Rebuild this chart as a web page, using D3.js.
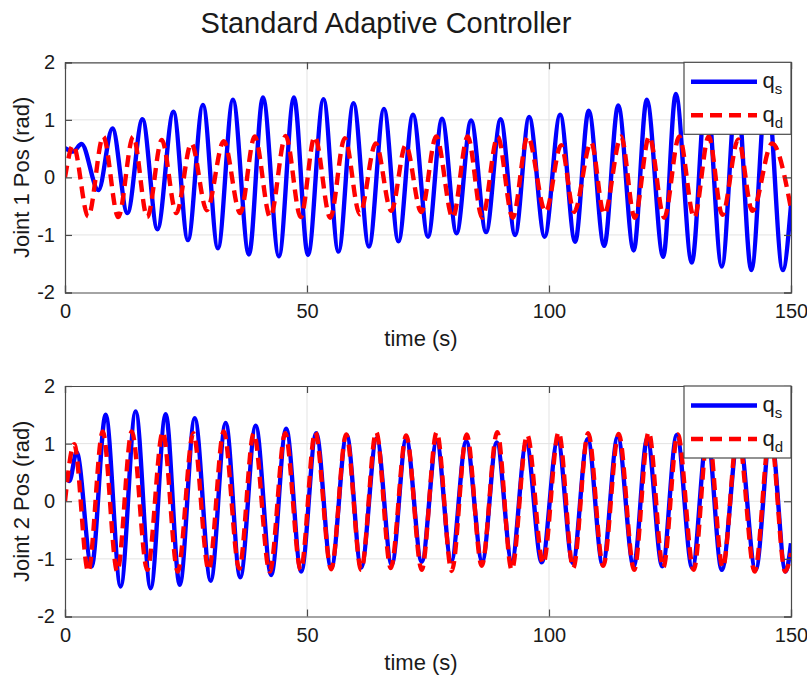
<!DOCTYPE html>
<html>
<head>
<meta charset="utf-8">
<script src="https://cdn.jsdelivr.net/npm/d3@7"></script>
<style>
  html, body { margin: 0; padding: 0; background: #fff; }
  svg { display: block; }
  text { font-family: "Liberation Sans", Arial, Helvetica, sans-serif; fill: #1a1a1a; }
</style>
</head>
<body>
<svg id="chart" width="807" height="677"></svg>
<script>
// Joint 1: simulated (q_s) and desired (q_d) positions, sampled at turning points
const j1QsTime = [0, 1.7, 3.4, 6.9, 9.8, 12.9, 16.0, 19.1, 22.4, 25.4, 28.5, 31.6, 34.7, 38.0, 40.9, 44.2, 47.3, 50.2, 53.4, 56.5, 59.6, 62.8, 65.9, 68.9, 71.9, 75.0, 77.9, 80.9, 83.9, 87.0, 90.0, 93.0, 95.9, 99.1, 102.3, 105.4, 108.2, 111.4, 114.3, 117.5, 120.2, 123.6, 126.2, 129.5, 132.5, 135.7, 138.8, 141.8, 145.0, 148.3, 150];
const j1QsVal  = [0.51, 0.45, 0.58, -0.22, 0.85, -0.62, 1.01, -0.90, 1.14, -1.09, 1.26, -1.23, 1.35, -1.34, 1.39, -1.37, 1.39, -1.35, 1.36, -1.29, 1.29, -1.20, 1.19, -1.11, 1.09, -1.03, 1.02, -0.97, 0.99, -0.95, 1.01, -1.00, 1.05, -1.03, 1.09, -1.12, 1.16, -1.19, 1.25, -1.27, 1.35, -1.38, 1.45, -1.48, 1.52, -1.55, 1.57, -1.61, 1.60, -1.61, -0.48];

const j1QdTime = [0, 1.7, 4.8, 7.9, 11.0, 14.1, 17.0, 20.0, 23.0, 26.1, 29.3, 32.8, 36.2, 39.2, 42.4, 45.6, 48.7, 51.6, 54.8, 57.8, 60.9, 64.2, 67.4, 70.4, 73.6, 76.7, 80.1, 83.2, 86.2, 89.4, 92.5, 95.6, 99.3, 102.5, 105.2, 108.7, 111.4, 114.9, 117.7, 120.7, 123.8, 126.9, 130.0, 133.0, 135.8, 139.1, 142.0, 146.1, 150];
const j1QdVal  = [0, 0.56, -0.68, 0.71, -0.69, 0.71, -0.69, 0.65, -0.62, 0.59, -0.57, 0.63, -0.62, 0.71, -0.69, 0.72, -0.69, 0.71, -0.70, 0.68, -0.64, 0.59, -0.58, 0.56, -0.60, 0.71, -0.70, 0.71, -0.70, 0.71, -0.70, 0.71, -0.60, 0.56, -0.60, 0.61, -0.64, 0.71, -0.70, 0.71, -0.70, 0.71, -0.70, 0.71, -0.65, 0.66, -0.58, 0.59, -0.54];

// Joint 2
const j2QsTime = [0, 0.9, 2.4, 5.5, 8.4, 11.5, 14.6, 17.7, 20.8, 23.7, 26.8, 30.1, 33.2, 36.2, 39.4, 42.6, 45.7, 48.8, 51.9, 55.0, 58.2, 61.2, 64.4, 67.5, 70.5, 73.7, 76.8, 79.8, 82.9, 86.2, 89.2, 92.3, 95.3, 98.5, 101.8, 104.9, 108.0, 111.1, 114.2, 117.5, 120.3, 123.4, 126.4, 129.6, 132.7, 135.7, 139.2, 142.7, 145.8, 148.9, 150];
const j2QsVal  = [0.49, 0.35, 0.85, -1.13, 1.50, -1.48, 1.56, -1.51, 1.51, -1.45, 1.44, -1.38, 1.36, -1.32, 1.31, -1.28, 1.26, -1.22, 1.18, -1.16, 1.15, -1.15, 1.09, -1.10, 1.08, -1.05, 1.04, -1.04, 1.04, -1.04, 1.02, -1.04, 1.01, -1.06, 1.06, -1.07, 1.08, -1.10, 1.12, -1.13, 1.09, -1.13, 1.15, -1.16, 1.15, -1.19, 1.17, -1.19, 1.18, -1.22, -0.73];

const j2QdTime = [0, 1.9, 4.8, 7.8, 10.8, 13.8, 17.0, 20.2, 23.3, 26.5, 29.7, 32.8, 36.0, 39.0, 42.3, 45.5, 48.7, 51.7, 55.0, 58.1, 61.2, 64.3, 67.3, 70.5, 73.7, 76.8, 79.9, 83.0, 86.1, 89.3, 92.3, 95.5, 98.8, 102.0, 105.0, 108.1, 111.2, 114.4, 117.6, 120.6, 123.6, 126.6, 129.9, 132.9, 135.9, 139.0, 142.5, 145.7, 148.8, 150];
const j2QdVal  = [0, 0.99, -1.22, 1.21, -1.22, 1.21, -1.19, 1.20, -1.22, 1.18, -1.19, 1.21, -1.17, 1.18, -1.22, 1.18, -1.19, 1.20, -1.18, 1.16, -1.19, 1.20, -1.16, 1.14, -1.19, 1.20, -1.21, 1.16, -1.12, 1.20, -1.19, 1.15, -1.08, 1.20, -1.16, 1.18, -1.12, 1.17, -1.19, 1.20, -1.15, 1.16, -1.19, 1.20, -1.15, 1.20, -1.22, 1.20, -1.22, -0.90];

const xTicks = [0, 50, 100, 150];
const yTicks = [-2, -1, 0, 1, 2];
const titleText = "Standard Adaptive Controller";
const xLabelText = "time (s)";
const yLabels = ["Joint 1 Pos (rad)", "Joint 2 Pos (rad)"];
const legendNames = [["q", "s"], ["q", "d"]];

const svg = d3.select("#chart");
const left = 65, right = 791;
const panels = [
  { top: 62.3, bottom: 292.5, qs: [j1QsTime, j1QsVal], qd: [j1QdTime, j1QdVal], ylab: yLabels[0] },
  { top: 386, bottom: 616.5, qs: [j2QsTime, j2QsVal], qd: [j2QdTime, j2QdVal], ylab: yLabels[1] }
];

const blue = "#0000ff", red = "#ff0000";
const axisColor = "#4a4a4a";
const tickFmt = d => String(d);   // plain hyphen for negatives

svg.append("text")
  .attr("x", 386).attr("y", 33)
  .attr("text-anchor", "middle")
  .style("font-size", "29px")
  .text(titleText);

panels.forEach((p, i) => {
  const x = d3.scaleLinear().domain([0, 150]).range([left, right]);
  const y = d3.scaleLinear().domain([-2, 2]).range([p.bottom, p.top]);
  const g = svg.append("g");

  // grid
  g.selectAll(".gx").data(xTicks.slice(1, -1)).join("line")
    .attr("x1", d => x(d)).attr("x2", d => x(d))
    .attr("y1", p.top).attr("y2", p.bottom)
    .attr("stroke", "#e3e3e3").attr("stroke-width", 1);
  g.selectAll(".gy").data(yTicks.slice(1, -1)).join("line")
    .attr("x1", left).attr("x2", right)
    .attr("y1", d => y(d)).attr("y2", d => y(d))
    .attr("stroke", "#e3e3e3").attr("stroke-width", 1);

  // data lines
  const clipId = "clip" + i;
  svg.append("clipPath").attr("id", clipId).append("rect")
    .attr("x", left).attr("y", p.top).attr("width", right - left).attr("height", p.bottom - p.top);
  const line = d3.line().x(d => x(d[0])).y(d => y(d[1])).curve(d3.curveMonotoneX);
  const qs = d3.zip(p.qs[0], p.qs[1]);
  const qd = d3.zip(p.qd[0], p.qd[1]);
  const lines = g.append("g").attr("clip-path", `url(#${clipId})`);
  lines.append("path").datum(qs).attr("d", line)
    .attr("fill", "none").attr("stroke", blue).attr("stroke-width", 4.4)
    .attr("stroke-linejoin", "round");
  lines.append("path").datum(qd).attr("d", line)
    .attr("fill", "none").attr("stroke", red).attr("stroke-width", 4.4)
    .attr("stroke-dasharray", "12,7");

  // axes (ticks inward on all sides)
  const axB = d3.axisBottom(x).tickValues(xTicks).tickSize(-7).tickPadding(11).tickFormat(tickFmt);
  const axL = d3.axisLeft(y).tickValues(yTicks).tickSize(-7).tickPadding(10).tickFormat(tickFmt);
  const axT = d3.axisTop(x).tickValues(xTicks).tickSize(-7).tickFormat("");
  const axR = d3.axisRight(y).tickValues(yTicks).tickSize(-7).tickFormat("");
  const styleAxis = sel => {
    sel.selectAll("path.domain").attr("stroke", axisColor).attr("stroke-width", 1.2);
    sel.selectAll(".tick line").attr("stroke", axisColor).attr("stroke-width", 1.2);
    sel.selectAll(".tick text").style("font-size", "20px").style("font-family", "'Liberation Sans', Arial, sans-serif").attr("fill", "#1a1a1a");
  };
  g.append("g").attr("transform", `translate(0,${p.bottom})`).call(axB).call(styleAxis);
  g.append("g").attr("transform", `translate(${left},0)`).call(axL).call(styleAxis);
  g.append("g").attr("transform", `translate(0,${p.top})`).call(axT).call(styleAxis);
  g.append("g").attr("transform", `translate(${right},0)`).call(axR).call(styleAxis);

  // axis labels
  g.append("text")
    .attr("x", (left + right) / 2 - 7).attr("y", p.bottom + 53)
    .attr("text-anchor", "middle").style("font-size", "22px")
    .text(xLabelText);
  g.append("text")
    .attr("transform", `translate(29,${(p.top + p.bottom) / 2}) rotate(-90)`)
    .attr("text-anchor", "middle").style("font-size", "22px")
    .text(p.ylab);

  // legend
  const lg = g.append("g").attr("transform", `translate(684,${p.top})`);
  lg.append("rect").attr("x", 0).attr("y", 0).attr("width", right - 684).attr("height", 72)
    .attr("fill", "#fff").attr("stroke", axisColor).attr("stroke-width", 1.2);
  [[blue, null, 19.5], [red, "12,7", 53]].forEach((s, k) => {
    lg.append("line").attr("x1", 7).attr("x2", 73).attr("y1", s[2]).attr("y2", s[2])
      .attr("stroke", s[0]).attr("stroke-width", 4.4)
      .attr("stroke-dasharray", s[1]);
    const t = lg.append("text").attr("x", 78.5).attr("y", s[2] + 6.5).style("font-size", "22px");
    t.append("tspan").text(legendNames[k][0]);
    t.append("tspan").attr("dy", 6).style("font-size", "15px").text(legendNames[k][1]);
  });
});
</script>
</body>
</html>
